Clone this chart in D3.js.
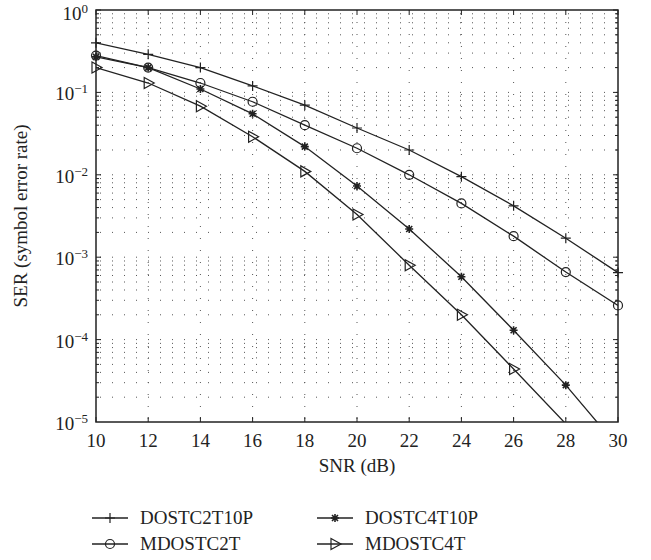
<!DOCTYPE html>
<html><head><meta charset="utf-8">
<script src="https://cdn.jsdelivr.net/npm/d3@7"></script>
<style>body{margin:0;background:#fff}svg{display:block}svg text{font-family:"Times New Roman","Liberation Serif",Tinos,"DejaVu Serif",serif}</style>
</head><body><svg id="c" width="651" height="560"></svg>
<script>
const snr = [10,12,14,16,18,20,22,24,26,28,30];
const dostc2t10p = [0.4,0.29,0.2,0.12,0.07,0.037,0.02,0.0095,0.0042,0.0017,0.00065];
const mdostc2t   = [0.28,0.2,0.13,0.077,0.04,0.021,0.01,0.0045,0.0018,0.00066,0.00026];
const dostc4t10p = [0.27,0.2,0.11,0.055,0.022,0.0073,0.0022,0.00058,0.00013,0.000028,0.000005];
const mdostc4t   = [0.2,0.13,0.068,0.029,0.011,0.0033,0.0008,0.0002,0.000044,0.0000095,null];
const seriesNames = ["DOSTC2T10P","MDOSTC2T","DOSTC4T10P","MDOSTC4T"];
const xTicks = [10,12,14,16,18,20,22,24,26,28,30];
const yExps = [0,-1,-2,-3,-4,-5];

const svg = d3.select("#c");
const L=96,R=618,T=10,B=422;
const x = d3.scaleLinear().domain([10,30]).range([L,R]);
const y = d3.scaleLog().domain([1e-5,1]).range([B,T]);
const col="#222";

// grid
const g = svg.append("g");
xTicks.slice(1,-1).forEach(v=>{
  g.append("line").attr("x1",x(v)).attr("x2",x(v)).attr("y1",T).attr("y2",B)
   .attr("stroke","#555").attr("stroke-width",1).attr("stroke-dasharray","1,11");
});
const minors=[];
for(let e=-5;e<0;e++){for(let m=1;m<10;m++){const v=m*Math.pow(10,e); if(v>1e-5) minors.push(v);}}
minors.forEach(v=>{
  g.append("line").attr("x1",L).attr("x2",R).attr("y1",y(v)).attr("y2",y(v))
   .attr("stroke","#555").attr("stroke-width",1).attr("stroke-dasharray","1,11").attr("stroke-dashoffset",-4);
});
function txt(sel){return sel.append("text").attr("fill","#222");}
// ticks inside
xTicks.forEach(v=>{
  g.append("line").attr("x1",x(v)).attr("x2",x(v)).attr("y1",B).attr("y2",B-5).attr("stroke",col);
  g.append("line").attr("x1",x(v)).attr("x2",x(v)).attr("y1",T).attr("y2",T+5).attr("stroke",col);
  txt(svg).attr("x",x(v)).attr("y",B+25).attr("text-anchor","middle").attr("font-size",19).text(v);
});
minors.concat([1]).forEach(v=>{
  const len = (Math.abs(Math.log10(v)-Math.round(Math.log10(v)))<1e-9)?5:3;
  g.append("line").attr("x1",L).attr("x2",L+len).attr("y1",y(v)).attr("y2",y(v)).attr("stroke",col);
  g.append("line").attr("x1",R).attr("x2",R-len).attr("y1",y(v)).attr("y2",y(v)).attr("stroke",col);
});
yExps.forEach(e=>{
  const t=txt(svg).attr("x",L-8).attr("y",y(Math.pow(10,e))+(e===0?10:8)).attr("text-anchor","end").attr("font-size",19);
  t.append("tspan").text("10");
  t.append("tspan").attr("dy",-7).attr("font-size",13).text(e===0?"0":"\u2212"+(-e));
});
svg.append("rect").attr("x",L).attr("y",T).attr("width",R-L).attr("height",B-T).attr("fill","none").attr("stroke",col).attr("stroke-width",1.5);

txt(svg).attr("x",(L+R)/2).attr("y",472).attr("text-anchor","middle").attr("font-size",19).text("SNR (dB)");
txt(svg).attr("transform",`translate(27,${(T+B)/2}) rotate(-90)`).attr("text-anchor","middle").attr("font-size",19).text("SER (symbol error rate)");

// markers
function marker(sel,type,cx,cy){
  if(type==="plus"){
    sel.append("path").attr("d",`M${cx-5},${cy}H${cx+5}M${cx},${cy-5}V${cy+5}`).attr("stroke",col).attr("stroke-width",1.2).attr("fill","none");
  } else if(type==="circle"){
    sel.append("circle").attr("cx",cx).attr("cy",cy).attr("r",4.5).attr("fill","none").attr("stroke",col).attr("stroke-width",1.2);
  } else if(type==="star"){
    sel.append("path").attr("d",`M${cx-4},${cy}H${cx+4}M${cx},${cy-4}V${cy+4}M${cx-3},${cy-3}L${cx+3},${cy+3}M${cx-3},${cy+3}L${cx+3},${cy-3}`).attr("stroke",col).attr("stroke-width",1.6).attr("fill","none");
  } else {
    sel.append("path").attr("d",`M${cx-4},${cy-5.5}L${cx+6},${cy}L${cx-4},${cy+5.5}Z`).attr("fill","none").attr("stroke",col).attr("stroke-width",1.2);
  }
}
const types=["plus","circle","star","tri"];
const data=[dostc2t10p,mdostc2t,dostc4t10p,mdostc4t];
svg.append("clipPath").attr("id","clip").append("rect").attr("x",L).attr("y",T).attr("width",R-L).attr("height",B-T);
const plot=svg.append("g").attr("clip-path","url(#clip)");
const mk=svg.append("g");
const line=d3.line().defined(d=>d[1]!=null).x(d=>x(d[0])).y(d=>y(d[1]));
data.forEach((s,i)=>{
  const pts=snr.map((v,j)=>[v,s[j]]);
  plot.append("path").attr("d",line(pts)).attr("fill","none").attr("stroke",col).attr("stroke-width",1.3);
  pts.forEach(p=>{ if(p[1]!=null && p[1]>=1e-5) marker(mk,types[i],x(p[0]),y(p[1])); });
});

// legend
const legPos=[[92,518],[92,544],[317,518],[317,544]];
seriesNames.forEach((n,i)=>{
  const [lx,ly]=legPos[i];
  svg.append("line").attr("x1",lx).attr("x2",lx+36).attr("y1",ly).attr("y2",ly).attr("stroke",col).attr("stroke-width",1.3);
  marker(svg,types[i],lx+18,ly);
  txt(svg).attr("x",lx+48).attr("y",ly+6).attr("font-size",19).text(n);
});
</script></body></html>
